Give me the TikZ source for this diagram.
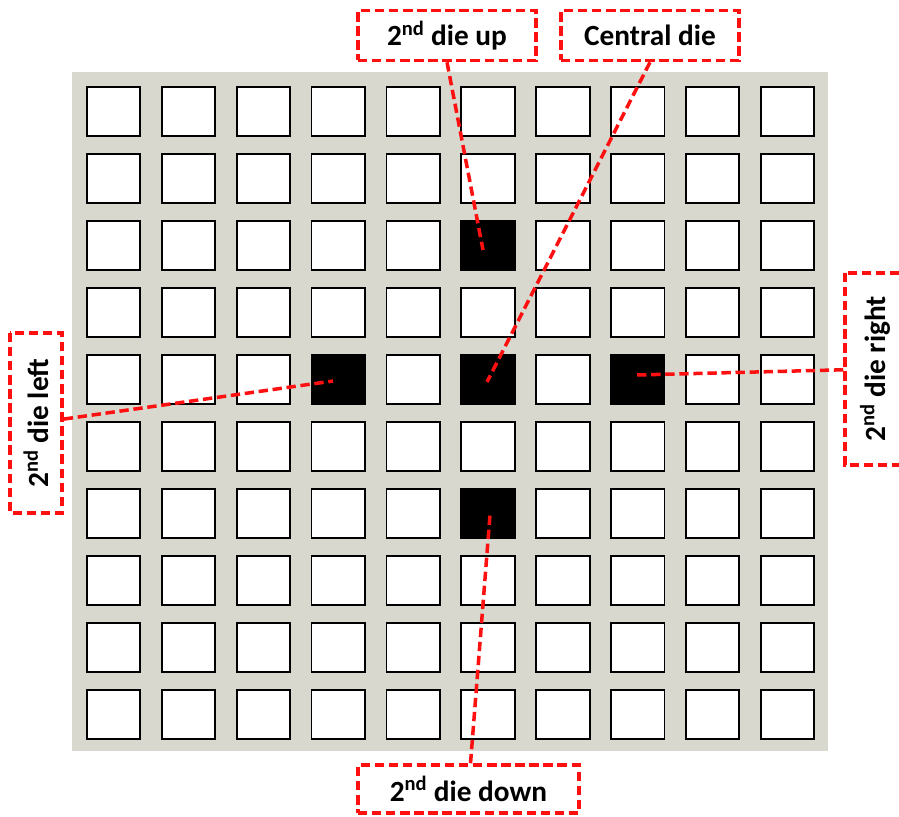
\documentclass[tikz,border=0pt]{standalone}
\usepackage{fontspec}
\setmainfont{Carlito}
\usetikzlibrary{positioning}
\usepackage{xcolor}
\definecolor{waferGray}{HTML}{D8D8CF}
\definecolor{leaderRed}{HTML}{FF1010}
\tikzset{
    cell/.style={
        rectangle,
        draw=black,
        line width=1.6pt,
        fill=white,
        inner sep=0pt,
        minimum width=1.6cm,
        minimum height=1.48cm
    },
    die/.style={
        cell,
        fill=black
    },
    tag/.style={
        rectangle,
        draw=leaderRed,
        line width=3pt,
        dash pattern=on 8pt off 4pt,
        fill=white,
        align=center,
        inner sep=0pt,
        font=\fontsize{25}{29}\selectfont\bfseries,
        minimum height=1.5cm
    },
    leader/.style={draw=leaderRed,line width=3pt,dash pattern=on 8pt off 4pt}
}

\begin{document}
\begin{tikzpicture}[x=0.03cm,y=-0.03cm]
    \useasboundingbox (0,0) rectangle (899,817);
    \clip (0,0) rectangle (899,817);
    \fill[waferGray] (72,72) rectangle (828,751);

    % wafer grid
    \foreach \i in {0,...,9} {
        \foreach \j in {0,...,9} {
            \node[cell] (c-\i-\j) at ({113.5+74.9*\i},{111.5+67*\j}) {};
        }
    }
    \node[die] at (c-5-2) {};
    \node[die] at (c-5-4) {};
    \node[die] at (c-3-4) {};
    \node[die] at (c-7-4) {};
    \node[die] at (c-5-6) {};

    \coordinate (upend) at (483,250);
    \coordinate (centerend) at (487,382);
    \coordinate (leftend) at (333,381);
    \coordinate (rightend) at (636,375);
    \coordinate (downend) at (490,515);

    % labels
    \node[tag, minimum width=5.34cm] (up) at (447,35.5) {2\textsuperscript{nd} die up};
    \node[tag, minimum width=5.34cm] (central) at (650,35.5) {Central die};
    \node[tag, minimum width=6.63cm, minimum height=1.44cm] (down) at (468.5,789) {2\textsuperscript{nd} die down};
    \node[tag, rotate=90, minimum width=5.4cm, minimum height=1.56cm] (left) at (36,423) {2\textsuperscript{nd} die left};
    \node[tag, rotate=90, minimum width=5.76cm, minimum height=1.8cm] (right) at (875,369) {2\textsuperscript{nd} die right};

    \draw[leader] (up.south) -- (upend);
    \draw[leader] (central.south) -- (centerend);
    \draw[leader] (left) -- (leftend);
    \draw[leader] (right) -- (rightend);
    \draw[leader] (down) -- (downend);
\end{tikzpicture}
\end{document}
